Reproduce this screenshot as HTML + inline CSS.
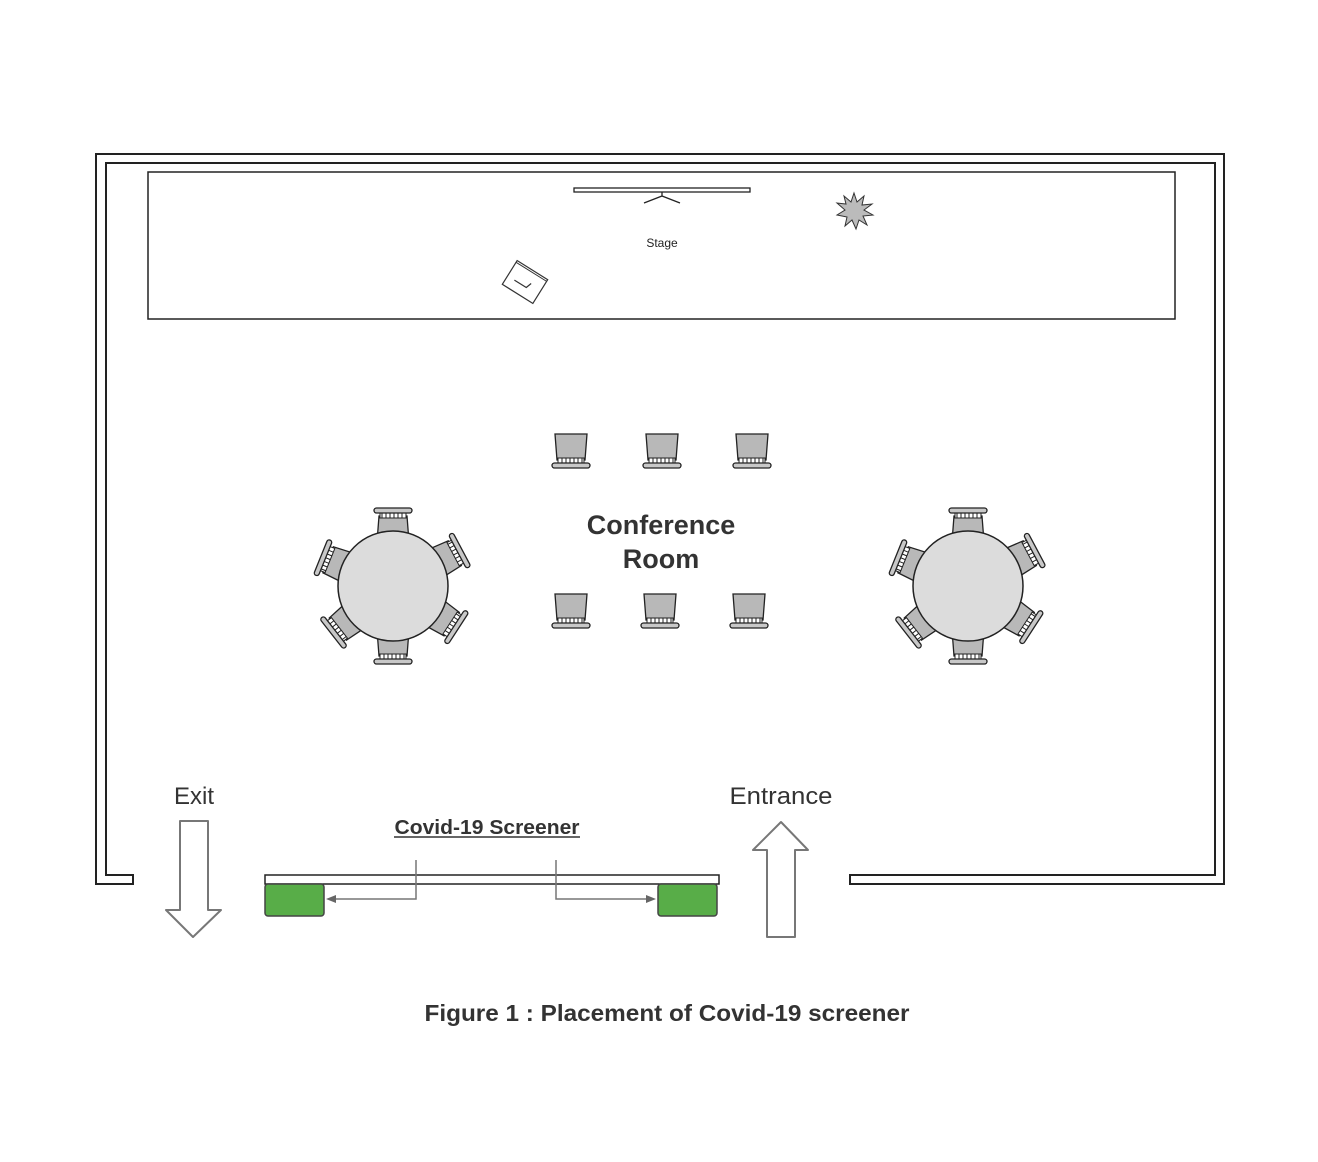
<!DOCTYPE html>
<html><head><meta charset="utf-8"><style>
html,body{margin:0;padding:0;background:#fff;}
svg{display:block;font-family:"Liberation Sans",Arial,sans-serif;}
</style></head><body>
<svg id="plan" width="1318" height="1162" viewBox="0 0 1318 1162">
<defs>
<g id="chair">
 <path d="M-16,-18 L16,-18 L14,8 L-14,8 Z" fill="#b8b8b8" stroke="#222" stroke-width="1.3"/>
 <rect x="-13" y="6" width="26" height="6" fill="#fff" stroke="#222" stroke-width="1"/>
 <path d="M-9,6v6M-5,6v6M-1,6v6M3,6v6M7,6v6M11,6v6" stroke="#222" stroke-width="1"/>
 <rect x="-19" y="11" width="38" height="5" rx="2.5" fill="#c8c8c8" stroke="#222" stroke-width="1.3"/>
</g>
</defs>
<path d="M133,884 H96 V154 H1224 V884 H850 V875 H1215 V163 H106 V875 H133 Z" fill="#fff" stroke="#222" stroke-width="2"/>
<rect x="148" y="172" width="1027" height="147" fill="#fff" stroke="#222" stroke-width="1.5"/>
<g>
 <rect x="574" y="188" width="176" height="4" fill="#fff" stroke="#222" stroke-width="1.3"/>
 <path d="M662,192 v4 M662,196 L644,203 M662,196 L680,203" stroke="#222" stroke-width="1.3" fill="none"/>
</g>
<text x="662" y="247" font-size="12" text-anchor="middle" fill="#222">Stage</text>
<g transform="translate(525,282) rotate(32)">
 <rect x="-18" y="-14" width="36" height="28" fill="#fff" stroke="#333" stroke-width="1.2"/>
 <line x1="-18" y1="-12" x2="18" y2="-12" stroke="#333"/>
 <path d="M-10,4 L4,4 L6,-2" stroke="#333" fill="none" stroke-width="1.2"/>
</g>
<polygon fill="#bbb" stroke="#333" stroke-width="1"
 points="854,193 857,202 864,196 862,205 872,204 864,210 873,215 863,216 867,225 859,220 856,229 852,220 845,226 847,217 837,215 845,210 837,203 846,204 844,196 851,202"/>
<g>
 <use href="#chair" x="571" y="452"/><use href="#chair" x="662" y="452"/><use href="#chair" x="752" y="452"/>
</g>
<g>
 <use href="#chair" x="571" y="612"/><use href="#chair" x="660" y="612"/><use href="#chair" x="749" y="612"/>
</g>
<g id="tables"></g>
<text text-anchor="middle" font-size="27" font-weight="bold" fill="#333"><tspan x="661" y="534">Conference</tspan><tspan x="661" y="568">Room</tspan></text>
<rect x="265" y="875" width="454" height="9" fill="#fff" stroke="#222" stroke-width="1.5"/>
<rect x="265" y="884" width="59" height="32" rx="3" fill="#58ad48" stroke="#444" stroke-width="1.5"/>
<rect x="658" y="884" width="59" height="32" rx="3" fill="#58ad48" stroke="#444" stroke-width="1.5"/>
<g stroke="#777" stroke-width="1.5" fill="none">
 <path d="M416,860 V899 H334"/><path d="M556,860 V899 H648"/>
</g>
<polygon points="326,899 336,895 336,903" fill="#666"/>
<polygon points="656,899 646,895 646,903" fill="#666"/>
<text x="487" y="834" font-size="20" font-weight="bold" fill="#333" text-anchor="middle" textLength="185" lengthAdjust="spacingAndGlyphs">Covid-19 Screener</text>
<line x1="394" y1="837" x2="580" y2="837" stroke="#333" stroke-width="1.5"/>
<text x="194" y="804" font-size="24" text-anchor="middle" fill="#333">Exit</text>
<path d="M180,821 H208 V910 H221 L193,937 L166,910 H180 Z" fill="#fff" stroke="#777" stroke-width="2" stroke-linejoin="round"/>
<text x="781" y="804" font-size="24" text-anchor="middle" fill="#333" textLength="103" lengthAdjust="spacingAndGlyphs">Entrance</text>
<path d="M767,937 H795 V850 H808 L781,822 L753,850 H767 Z" fill="#fff" stroke="#777" stroke-width="2" stroke-linejoin="round"/>
<text x="667" y="1021" font-size="23" font-weight="bold" text-anchor="middle" fill="#333" textLength="485" lengthAdjust="spacingAndGlyphs">Figure 1 : Placement of Covid-19 screener</text>
<script>
const tableCenters=[[393,586],[968,586]];
const chairAngles=[-90,-28,33,90,142,202];
const g=document.getElementById('tables');
const NS='http://www.w3.org/2000/svg';
tableCenters.forEach(function(c,i){
 const grp=document.createElementNS(NS,'g');
 
 
 chairAngles.forEach(function(a){
  const u=document.createElementNS(NS,'use');
  u.setAttribute('href','#chair');
  const r=a*Math.PI/180;
  u.setAttribute('transform','translate('+(c[0]+62*Math.cos(r))+','+(c[1]+62*Math.sin(r))+') rotate('+(a-90)+')');
  
  
  grp.appendChild(u);
 });
 const t=document.createElementNS(NS,'circle');
 t.setAttribute('cx',c[0]);t.setAttribute('cy',c[1]);t.setAttribute('r',55);
 t.setAttribute('fill','#dcdcdc');t.setAttribute('stroke','#222');t.setAttribute('stroke-width','1.5');
 
 
 grp.appendChild(t);
 g.appendChild(grp);
});
</script>
</svg>
</body></html>
